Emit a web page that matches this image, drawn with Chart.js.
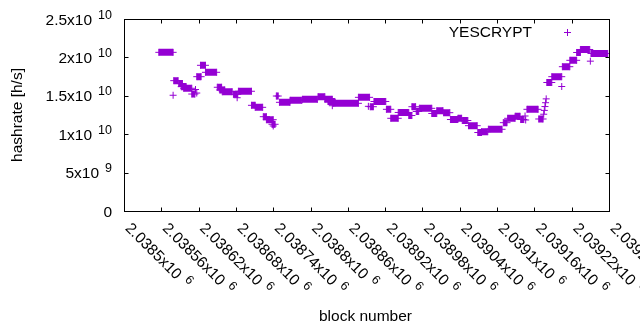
<!DOCTYPE html>
<html>
<head>
<meta charset="utf-8">
<script src="https://cdn.jsdelivr.net/npm/chart.js@4"></script>
<style>
  html, body { margin: 0; padding: 0; background: #fff; }
  #wrap { width: 640px; height: 330px; }
</style>
</head>
<body>
<div id="wrap"><canvas id="myChart" width="640" height="330"></canvas></div>
<script>
// runs of consecutive blocks that share (roughly) the same hashrate
const runStart = [2038556, 2038580, 2038588, 2038592, 2038596, 2038609, 2038617, 2038623, 2038631, 2038650,
    2038654, 2038658, 2038676, 2038684, 2038705, 2038711, 2038724, 2038729, 2038738, 2038745,
    2038750, 2038767, 2038787, 2038812, 2038823, 2038828, 2038836, 2038877, 2038896, 2038902,
    2038922, 2038929, 2038941, 2038958, 2038963, 2038970, 2038975, 2038995, 2039003, 2039014,
    2039025, 2039037, 2039044, 2039054, 2039069, 2039075, 2039086, 2039110, 2039117, 2039129,
    2039138, 2039148, 2039167, 2039180, 2039188, 2039205, 2039217, 2039228, 2039234, 2039251];
const runEnd = [2038579, 2038587, 2038594, 2038600, 2038609, 2038614, 2038624, 2038631, 2038649, 2038657,
    2038662, 2038674, 2038683, 2038705, 2038711, 2038723, 2038729, 2038740, 2038743, 2038748,
    2038767, 2038786, 2038811, 2038823, 2038835, 2038839, 2038877, 2038895, 2038901, 2038921,
    2038929, 2038941, 2038958, 2038963, 2038969, 2038974, 2038995, 2039003, 2039013, 2039024,
    2039037, 2039043, 2039053, 2039068, 2039075, 2039085, 2039108, 2039116, 2039129, 2039137,
    2039143, 2039166, 2039174, 2039188, 2039204, 2039217, 2039228, 2039234, 2039249, 2039278];
const runHash = [20.66e9, 16.97e9, 16.60e9, 16.19e9, 15.98e9, 15.23e9, 17.49e9, 18.97e9, 18.06e9, 16.11e9,
    15.76e9, 15.53e9, 15.20e9, 15.59e9, 13.76e9, 13.50e9, 12.28e9, 11.89e9, 11.29e9, 14.97e9,
    14.15e9, 14.41e9, 14.54e9, 14.88e9, 14.54e9, 14.26e9, 14.02e9, 14.80e9, 13.58e9, 14.26e9,
    13.24e9, 12.07e9, 12.83e9, 12.43e9, 13.58e9, 12.96e9, 13.37e9, 12.70e9, 13.06e9, 12.80e9,
    11.91e9, 12.07e9, 11.78e9, 11.11e9, 10.22e9, 10.33e9, 10.64e9, 11.50e9, 12.07e9, 12.33e9,
    11.91e9, 13.24e9, 11.98e9, 16.73e9, 17.49e9, 18.79e9, 19.62e9, 20.64e9, 21.03e9, 20.51e9];

// single blocks standing apart from the runs
const dotBlock = [2038579, 2038615, 2038617, 2038682, 2038740, 2038835, 2038893, 2039145, 2039146,
    2039175, 2039176, 2039177, 2039178, 2039179, 2039204, 2039250];
const dotHash = [15.07e9, 15.82e9, 15.36e9, 14.75e9, 11.07e9, 13.71e9, 13.63e9, 12.37e9, 11.85e9,
    12.6e9, 13.1e9, 13.6e9, 14.1e9, 14.6e9, 16.21e9, 19.51e9];

const xMin = 2038500, xMax = 2039280, xStep = 60;
const yMin = 0, yMax = 2.5e10, yStep = 5e9;
const seriesName = 'YESCRYPT';
const xTitle = 'block number';
const yTitle = 'hashrate [h/s]';

const PURPLE = '#9400d3';
const FONT = '15.5px "Liberation Sans", Arial, sans-serif';
const SUPFONT = '12.5px "Liberation Sans", Arial, sans-serif';

const runPoints = [];
runStart.forEach((s, i) => {
    runPoints.push({ x: s, y: runHash[i] });
    runPoints.push({ x: runEnd[i], y: runHash[i] });
    runPoints.push({ x: runEnd[i], y: null });
});
const dotPoints = dotBlock.map((b, i) => ({ x: b, y: dotHash[i] }));

function sciParts(v) {
    if (v === 0) return ['0', ''];
    const e = Math.floor(Math.log10(Math.abs(v)) + 1e-9);
    const m = parseFloat((v / Math.pow(10, e)).toFixed(6));
    return [m + 'x10', String(e)];
}

const gnuplotFrame = {
    id: 'gnuplotFrame',
    afterDraw(chart) {
        const ctx = chart.ctx;
        const a = chart.chartArea;
        const xs = chart.scales.x, ys = chart.scales.y;
        const L = Math.round(a.left) + 0.5, R = Math.round(a.right) + 0.5;
        const T = Math.round(a.top) + 0.5, B = Math.round(a.bottom) + 0.5;
        ctx.save();
        ctx.strokeStyle = '#000';
        ctx.lineWidth = 1;
        ctx.strokeRect(L, T, R - L, B - T);

        // inward ticks on all four sides
        ctx.beginPath();
        xs.ticks.forEach(t => {
            const x = Math.round(xs.getPixelForValue(t.value)) + 0.5;
            ctx.moveTo(x, B); ctx.lineTo(x, B - 4);
            ctx.moveTo(x, T); ctx.lineTo(x, T + 4);
        });
        ys.ticks.forEach(t => {
            const y = Math.round(ys.getPixelForValue(t.value)) + 0.5;
            ctx.moveTo(L, y); ctx.lineTo(L + 4, y);
            ctx.moveTo(R, y); ctx.lineTo(R - 4, y);
        });
        ctx.stroke();

        ctx.fillStyle = '#000';
        // y tick labels
        ys.ticks.forEach(t => {
            const [main, sup] = sciParts(t.value);
            const y = ys.getPixelForValue(t.value);
            let x = a.left - 12;
            ctx.textAlign = 'right';
            ctx.textBaseline = 'alphabetic';
            if (sup) {
                ctx.font = SUPFONT;
                ctx.fillText(sup, x, y - 0.5);
                x -= ctx.measureText(sup).width + 6;
            }
            ctx.font = FONT;
            ctx.fillText(main, x, y + 5.5);
        });

        // x tick labels, rotated down to the right
        xs.ticks.forEach(t => {
            const [main, sup] = sciParts(t.value);
            const x = xs.getPixelForValue(t.value);
            ctx.save();
            ctx.translate(x + 0.5, a.bottom + 18);
            ctx.rotate(Math.PI / 4);
            ctx.textAlign = 'left';
            ctx.textBaseline = 'alphabetic';
            ctx.font = FONT;
            ctx.fillText(main, 0, 0);
            const w = ctx.measureText(main).width + 6;
            ctx.font = SUPFONT;
            ctx.fillText(sup, w, -6);
            ctx.restore();
        });

        // axis titles
        ctx.font = FONT;
        ctx.textAlign = 'center';
        ctx.fillText(xTitle, (a.left + a.right) / 2 - 1, 321);
        ctx.save();
        ctx.translate(22, (a.top + a.bottom) / 2);
        ctx.rotate(-Math.PI / 2);
        ctx.fillText(yTitle, 0, 0);
        ctx.restore();

        // key
        ctx.textAlign = 'right';
        ctx.fillText(seriesName, a.right - 77, a.top + 18);
        const kx = a.right - 41.5, ky = a.top + 13.5;
        ctx.strokeStyle = PURPLE;
        ctx.beginPath();
        ctx.moveTo(kx - 3.5, ky); ctx.lineTo(kx + 3.5, ky);
        ctx.moveTo(kx, ky - 3.5); ctx.lineTo(kx, ky + 3.5);
        ctx.stroke();
        ctx.restore();
    }
};

const ctx = document.getElementById('myChart');
const chart = new Chart(ctx, {
    type: 'scatter',
    data: {
        datasets: [{
            label: seriesName,
            data: runPoints,
            showLine: true,
            spanGaps: false,
            borderColor: PURPLE,
            backgroundColor: PURPLE,
            borderWidth: 7,
            borderCapStyle: 'butt',
            pointStyle: 'cross',
            pointRadius: 3.5,
            pointBorderWidth: 1,
            pointBorderColor: PURPLE,
            pointHoverRadius: 3.5
        }, {
            label: seriesName + ' single',
            data: dotPoints,
            showLine: false,
            borderColor: PURPLE,
            backgroundColor: PURPLE,
            pointStyle: 'cross',
            pointRadius: 3.5,
            pointBorderWidth: 1,
            pointHoverRadius: 3.5
        }]
    },
    options: {
        responsive: false,
        animation: false,
        events: [],
        layout: { padding: { left: 0, right: 31, top: 19, bottom: 0 } },
        plugins: { legend: { display: false }, tooltip: { enabled: false } },
        scales: {
            x: {
                type: 'linear',
                min: xMin, max: xMax,
                ticks: { stepSize: xStep, display: false },
                grid: { display: false },
                border: { display: false },
                afterFit(s) { s.height = 119; }
            },
            y: {
                type: 'linear',
                min: yMin, max: yMax,
                ticks: { stepSize: yStep, display: false },
                grid: { display: false },
                border: { display: false },
                afterFit(s) { s.width = 124; }
            }
        }
    },
    plugins: [gnuplotFrame]
});
</script>
</body>
</html>
